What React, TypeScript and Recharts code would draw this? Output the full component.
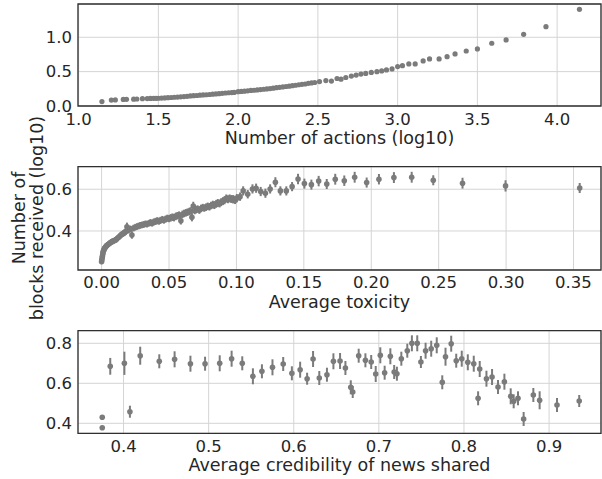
import React from 'react';
import {
  ScatterChart,
  Scatter,
  XAxis,
  YAxis,
  CartesianGrid,
  ErrorBar,
  ReferenceArea,
} from 'recharts';

// Panel 1: blocks vs number of actions
const actionsX = [
  1.146, 1.205, 1.23, 1.28, 1.3, 1.345, 1.365, 1.4, 1.43, 1.45, 1.47, 1.485,
  1.5, 1.52, 1.54, 1.56, 1.58, 1.6, 1.62, 1.64, 1.66, 1.68, 1.7, 1.72, 1.74, 1.76,
  1.78, 1.8, 1.82, 1.84, 1.86, 1.88, 1.9, 1.92, 1.94, 1.96, 1.975, 2.0, 2.02, 2.04,
  2.06, 2.08, 2.1, 2.12, 2.14, 2.16, 2.18, 2.2, 2.22, 2.24, 2.26, 2.28, 2.3, 2.32,
  2.34, 2.36, 2.38, 2.4, 2.42, 2.44, 2.46, 2.48, 2.51, 2.55, 2.585, 2.62, 2.645,
  2.675, 2.71, 2.74, 2.77, 2.8, 2.835, 2.87, 2.9, 2.93, 2.965, 3.0, 3.03, 3.07,
  3.11, 3.16, 3.2, 3.26, 3.31, 3.36, 3.43, 3.5, 3.59, 3.68, 3.79, 3.93, 4.14,
];
const actionsY = [
  0.064, 0.086, 0.089, 0.095, 0.097, 0.1, 0.102, 0.106, 0.108, 0.11, 0.111, 0.112,
  0.113, 0.116, 0.118, 0.121, 0.124, 0.127, 0.13, 0.133, 0.137, 0.141, 0.146, 0.15,
  0.153, 0.157, 0.161, 0.164, 0.167, 0.172, 0.176, 0.18, 0.184, 0.189, 0.193, 0.196,
  0.197, 0.209, 0.212, 0.216, 0.221, 0.226, 0.229, 0.234, 0.239, 0.244, 0.249, 0.254,
  0.26, 0.266, 0.272, 0.278, 0.284, 0.289, 0.296, 0.302, 0.309, 0.315, 0.32, 0.33,
  0.336, 0.342, 0.355, 0.37, 0.362, 0.4, 0.39, 0.415, 0.435, 0.45, 0.465, 0.474,
  0.488, 0.5, 0.51, 0.525, 0.54, 0.573, 0.587, 0.612, 0.612, 0.656, 0.685, 0.685,
  0.718, 0.757, 0.8, 0.83, 0.913, 0.961, 1.043, 1.154, 1.407,
];

// Panel 2: blocks vs average toxicity
const toxX = [
  0.0, 0.0002, 0.0004, 0.0006, 0.0008, 0.001, 0.0013, 0.0016, 0.002, 0.0024, 0.0028,
  0.0033, 0.0038, 0.0044, 0.005, 0.0057, 0.0064, 0.0072, 0.008, 0.009, 0.01, 0.011,
  0.012, 0.013, 0.014, 0.015, 0.016, 0.017, 0.018, 0.0188, 0.02, 0.0212, 0.0225,
  0.0237, 0.025, 0.0262, 0.0275, 0.0287, 0.03, 0.0312, 0.0325, 0.0337, 0.035, 0.0362,
  0.0375, 0.0387, 0.04, 0.0412, 0.0425, 0.0437, 0.045, 0.0462, 0.0475, 0.0487, 0.05,
  0.0512, 0.0525, 0.0537, 0.055, 0.0562, 0.0575, 0.0588, 0.06, 0.0612, 0.0625, 0.0637,
  0.065, 0.066, 0.067, 0.068, 0.069, 0.07, 0.0712, 0.0725, 0.0737, 0.075, 0.0762,
  0.0775, 0.0787, 0.08, 0.0812, 0.0825, 0.0837, 0.085, 0.0862, 0.0875, 0.0887, 0.09,
  0.0912, 0.0925, 0.0937, 0.095, 0.0962, 0.0975, 0.099, 0.1003, 0.1027, 0.105, 0.1084,
  0.1119, 0.1146, 0.118, 0.1215, 0.125, 0.1289, 0.1326, 0.137, 0.1413, 0.1457, 0.1504,
  0.1556, 0.161, 0.167, 0.1733, 0.18, 0.1877, 0.1966, 0.2057, 0.2168, 0.23, 0.246,
  0.2677, 0.2996, 0.3546,
];
const toxY = [
  0.253, 0.262, 0.27, 0.279, 0.287, 0.295, 0.303, 0.308, 0.314, 0.318, 0.322, 0.326,
  0.33, 0.333, 0.336, 0.34, 0.343, 0.347, 0.35, 0.352, 0.356, 0.36, 0.366, 0.372,
  0.378, 0.384, 0.388, 0.392, 0.398, 0.42, 0.404, 0.41, 0.381, 0.414, 0.418, 0.421,
  0.424, 0.427, 0.429, 0.431, 0.434, 0.433, 0.437, 0.44, 0.438, 0.443, 0.446, 0.449,
  0.447, 0.451, 0.455, 0.452, 0.457, 0.461, 0.459, 0.463, 0.466, 0.464, 0.47, 0.473,
  0.476, 0.449, 0.48, 0.484, 0.487, 0.49, 0.493, 0.496, 0.466, 0.52, 0.498, 0.502,
  0.505, 0.5, 0.508, 0.512, 0.51, 0.514, 0.518, 0.516, 0.522, 0.526, 0.524, 0.53,
  0.534, 0.532, 0.538, 0.543, 0.547, 0.556, 0.552, 0.556, 0.553, 0.552, 0.549, 0.557,
  0.5645, 0.592, 0.576, 0.6015, 0.605, 0.589, 0.581, 0.6015, 0.6335, 0.592, 0.592,
  0.6125, 0.649, 0.627, 0.622, 0.639, 0.625, 0.648, 0.641, 0.6575, 0.632, 0.648,
  0.656, 0.6575, 0.643, 0.629, 0.616, 0.606,
];
const toxErr = [
  0.012, 0.012, 0.012, 0.012, 0.012, 0.012, 0.012, 0.012, 0.012, 0.012, 0.012, 0.013,
  0.013, 0.013, 0.013, 0.013, 0.013, 0.014, 0.014, 0.014, 0.014, 0.015, 0.015, 0.015,
  0.015, 0.015, 0.016, 0.016, 0.016, 0.02, 0.016, 0.016, 0.018, 0.016, 0.016, 0.016,
  0.016, 0.016, 0.016, 0.016, 0.016, 0.016, 0.016, 0.017, 0.017, 0.017, 0.017, 0.017,
  0.017, 0.017, 0.017, 0.017, 0.017, 0.017, 0.017, 0.018, 0.018, 0.018, 0.018, 0.018,
  0.018, 0.018, 0.018, 0.018, 0.018, 0.018, 0.018, 0.018, 0.02, 0.02, 0.018, 0.018,
  0.018, 0.018, 0.018, 0.018, 0.018, 0.018, 0.018, 0.018, 0.018, 0.019, 0.019, 0.019,
  0.019, 0.019, 0.019, 0.019, 0.019, 0.019, 0.019, 0.019, 0.019, 0.02, 0.02, 0.02,
  0.02, 0.022, 0.02, 0.022, 0.022, 0.022, 0.022, 0.022, 0.024, 0.022, 0.022, 0.022,
  0.025, 0.024, 0.024, 0.025, 0.024, 0.026, 0.025, 0.026, 0.024, 0.025, 0.026, 0.026,
  0.024, 0.026, 0.027, 0.024,
];

// Panel 3: blocks vs average credibility
const credX = [
  0.375, 0.375, 0.3844, 0.401, 0.4075, 0.4196, 0.442, 0.46, 0.4786, 0.4958, 0.513,
  0.527, 0.5395, 0.552, 0.5626, 0.575, 0.5876, 0.5978, 0.6075, 0.6157, 0.6227, 0.63,
  0.639, 0.6466, 0.6544, 0.6607, 0.667, 0.6693, 0.6763, 0.6842, 0.691, 0.6963, 0.7017,
  0.7068, 0.7135, 0.718, 0.7212, 0.7264, 0.7334, 0.7388, 0.7451, 0.7494, 0.7549,
  0.7615, 0.768, 0.7745, 0.7783, 0.785, 0.7909, 0.7974, 0.8045, 0.8115, 0.8166,
  0.8185, 0.8264, 0.833, 0.84, 0.8475, 0.8549, 0.8584, 0.8635, 0.8701, 0.8815,
  0.8889, 0.9093, 0.9354,
];
const credY = [
  0.43, 0.378, 0.685, 0.7, 0.458, 0.738, 0.71, 0.72, 0.698, 0.698, 0.7, 0.723, 0.7,
  0.635, 0.66, 0.68, 0.6965, 0.65, 0.668, 0.623, 0.7215, 0.6265, 0.643, 0.71, 0.7115,
  0.6765, 0.58, 0.5565, 0.738, 0.715, 0.7065, 0.6465, 0.74, 0.653, 0.735, 0.6565,
  0.648, 0.723, 0.763, 0.8, 0.8, 0.7065, 0.763, 0.773, 0.79, 0.605, 0.733, 0.798,
  0.713, 0.723, 0.705, 0.698, 0.525, 0.6715, 0.623, 0.6315, 0.5815, 0.608, 0.535,
  0.51, 0.525, 0.4215, 0.5415, 0.515, 0.4915, 0.5115,
];
const credErr = [
  0.008, 0.006, 0.042, 0.058, 0.03, 0.045, 0.035, 0.04, 0.04, 0.035, 0.04, 0.04, 0.035,
  0.04, 0.035, 0.04, 0.035, 0.035, 0.04, 0.03, 0.04, 0.035, 0.035, 0.04, 0.04, 0.035,
  0.035, 0.03, 0.035, 0.035, 0.035, 0.04, 0.04, 0.035, 0.04, 0.035, 0.035, 0.035,
  0.035, 0.04, 0.04, 0.03, 0.04, 0.04, 0.04, 0.035, 0.045, 0.04, 0.035, 0.04, 0.04,
  0.04, 0.035, 0.04, 0.04, 0.04, 0.035, 0.04, 0.04, 0.035, 0.035, 0.035, 0.035, 0.045,
  0.035, 0.03,
];

const actionsTicks = [1.0, 1.5, 2.0, 2.5, 3.0, 3.5, 4.0];
const actionsYTicks = [0.0, 0.5, 1.0];
const toxTicks = [0.0, 0.05, 0.1, 0.15, 0.2, 0.25, 0.3, 0.35];
const toxYTicks = [0.4, 0.6];
const credTicks = [0.4, 0.5, 0.6, 0.7, 0.8, 0.9];
const credYTicks = [0.4, 0.6, 0.8];

const actionsData = actionsX.map((x, i) => ({ x, y: actionsY[i] }));
const toxData = toxX.map((x, i) => ({ x, y: toxY[i], err: toxErr[i] }));
const credData = credX.map((x, i) => ({ x, y: credY[i], err: credErr[i] }));

const FONT = '"DejaVu Sans", sans-serif';
const TEXT = '#262626';
const DOT = '#7b7b7b';
const GRID = '#d4d4d4';
const SPINE = '#303030';
const W = 602;
const PLOT_LEFT = 78;

const tickStyle = { fill: TEXT, fontSize: 16.5, fontFamily: FONT };
const labelStyle = { fill: TEXT, fontSize: 17.5, fontFamily: FONT };

const dot = (r: number) => (props: any) => (
  <circle cx={props.cx} cy={props.cy} r={r} fill={DOT} />
);

const YLabel = () => (
  <g>
    <text x={25} y={218} transform="rotate(-90 25 218)" textAnchor="middle" style={labelStyle}>
      Number of
    </text>
    <text x={43} y={218} transform="rotate(-90 43 218)" textAnchor="middle" style={labelStyle}>
      blocks received (log10)
    </text>
  </g>
);

interface PanelProps {
  top: number;
  height: number;
  marginTop: number;
  xAxisHeight: number;
  data: any[];
  xDomain: [number, number];
  yDomain: [number, number];
  xTicks: number[];
  yTicks: number[];
  xFmt: (v: number) => string;
  label: string;
  labelOffset: number;
  xTickSize?: number;
  r: number;
  withErr?: boolean;
}

const Panel: React.FC<PanelProps> = ({
  top, height, marginTop, xAxisHeight, data, xDomain, yDomain, xTicks, yTicks,
  xFmt, label, labelOffset, xTickSize = 5, r, withErr,
}) => (
  <div style={{ position: 'absolute', left: 0, top, width: W, height }}>
    <ScatterChart width={W} height={height} margin={{ top: marginTop, right: 1, left: 0, bottom: 0 }}>
      <CartesianGrid stroke={GRID} strokeWidth={1} />
      <XAxis
        type="number"
        dataKey="x"
        domain={xDomain}
        ticks={xTicks}
        allowDataOverflow
        tickFormatter={xFmt}
        tick={tickStyle}
        tickLine={false}
        tickSize={xTickSize}
        axisLine={false}
        height={xAxisHeight}
        interval={0}
        label={{ value: label, position: 'insideBottom', offset: labelOffset, style: labelStyle }}
      />
      <YAxis
        type="number"
        dataKey="y"
        domain={yDomain}
        ticks={yTicks}
        allowDataOverflow
        tickFormatter={(v: number) => v.toFixed(1)}
        tick={tickStyle}
        tickLine={false}
        tickSize={4}
        axisLine={false}
        width={PLOT_LEFT}
        interval={0}
      />
      <Scatter data={data} shape={dot(r)} isAnimationActive={false}>
        {withErr && (
          <ErrorBar dataKey="err" direction="y" width={0} strokeWidth={2} stroke={DOT} />
        )}
      </Scatter>
      <ReferenceArea
        x1={xDomain[0]}
        x2={xDomain[1]}
        y1={yDomain[0]}
        y2={yDomain[1]}
        fill="none"
        stroke={SPINE}
        strokeWidth={1.3}
        ifOverflow="visible"
      />
    </ScatterChart>
  </div>
);

export default function App() {
  return (
    <div style={{ position: 'absolute', left: 0, top: 0, width: W, height: 479, background: '#fff' }}>
      <Panel
        top={0}
        height={150}
        marginTop={4}
        xAxisHeight={44}
        data={actionsData}
        xDomain={[0.996, 4.275]}
        yDomain={[0, 1.484]}
        xTicks={actionsTicks}
        yTicks={actionsYTicks}
        xFmt={(v) => v.toFixed(1)}
        label="Number of actions (log10)"
        labelOffset={6}
        r={2.6}
      />
      <Panel
        top={160}
        height={156}
        marginTop={6.7}
        xAxisHeight={46}
        data={toxData}
        xDomain={[-0.0175, 0.3704]}
        yDomain={[0.213, 0.708]}
        xTicks={toxTicks}
        yTicks={toxYTicks}
        xFmt={(v) => v.toFixed(2)}
        label="Average toxicity"
        labelOffset={8.5}
        xTickSize={4}
        r={2.8}
        withErr
      />
      <Panel
        top={325}
        height={154}
        marginTop={5.7}
        xAxisHeight={45.7}
        data={credData}
        xDomain={[0.3465, 0.961]}
        yDomain={[0.35, 0.863]}
        xTicks={credTicks}
        yTicks={credYTicks}
        xFmt={(v) => v.toFixed(1)}
        label="Average credibility of news shared"
        labelOffset={8}
        r={2.8}
        withErr
      />
      <svg width={W} height={479} style={{ position: 'absolute', left: 0, top: 0, pointerEvents: 'none' }}>
        <YLabel />
      </svg>
    </div>
  );
}
